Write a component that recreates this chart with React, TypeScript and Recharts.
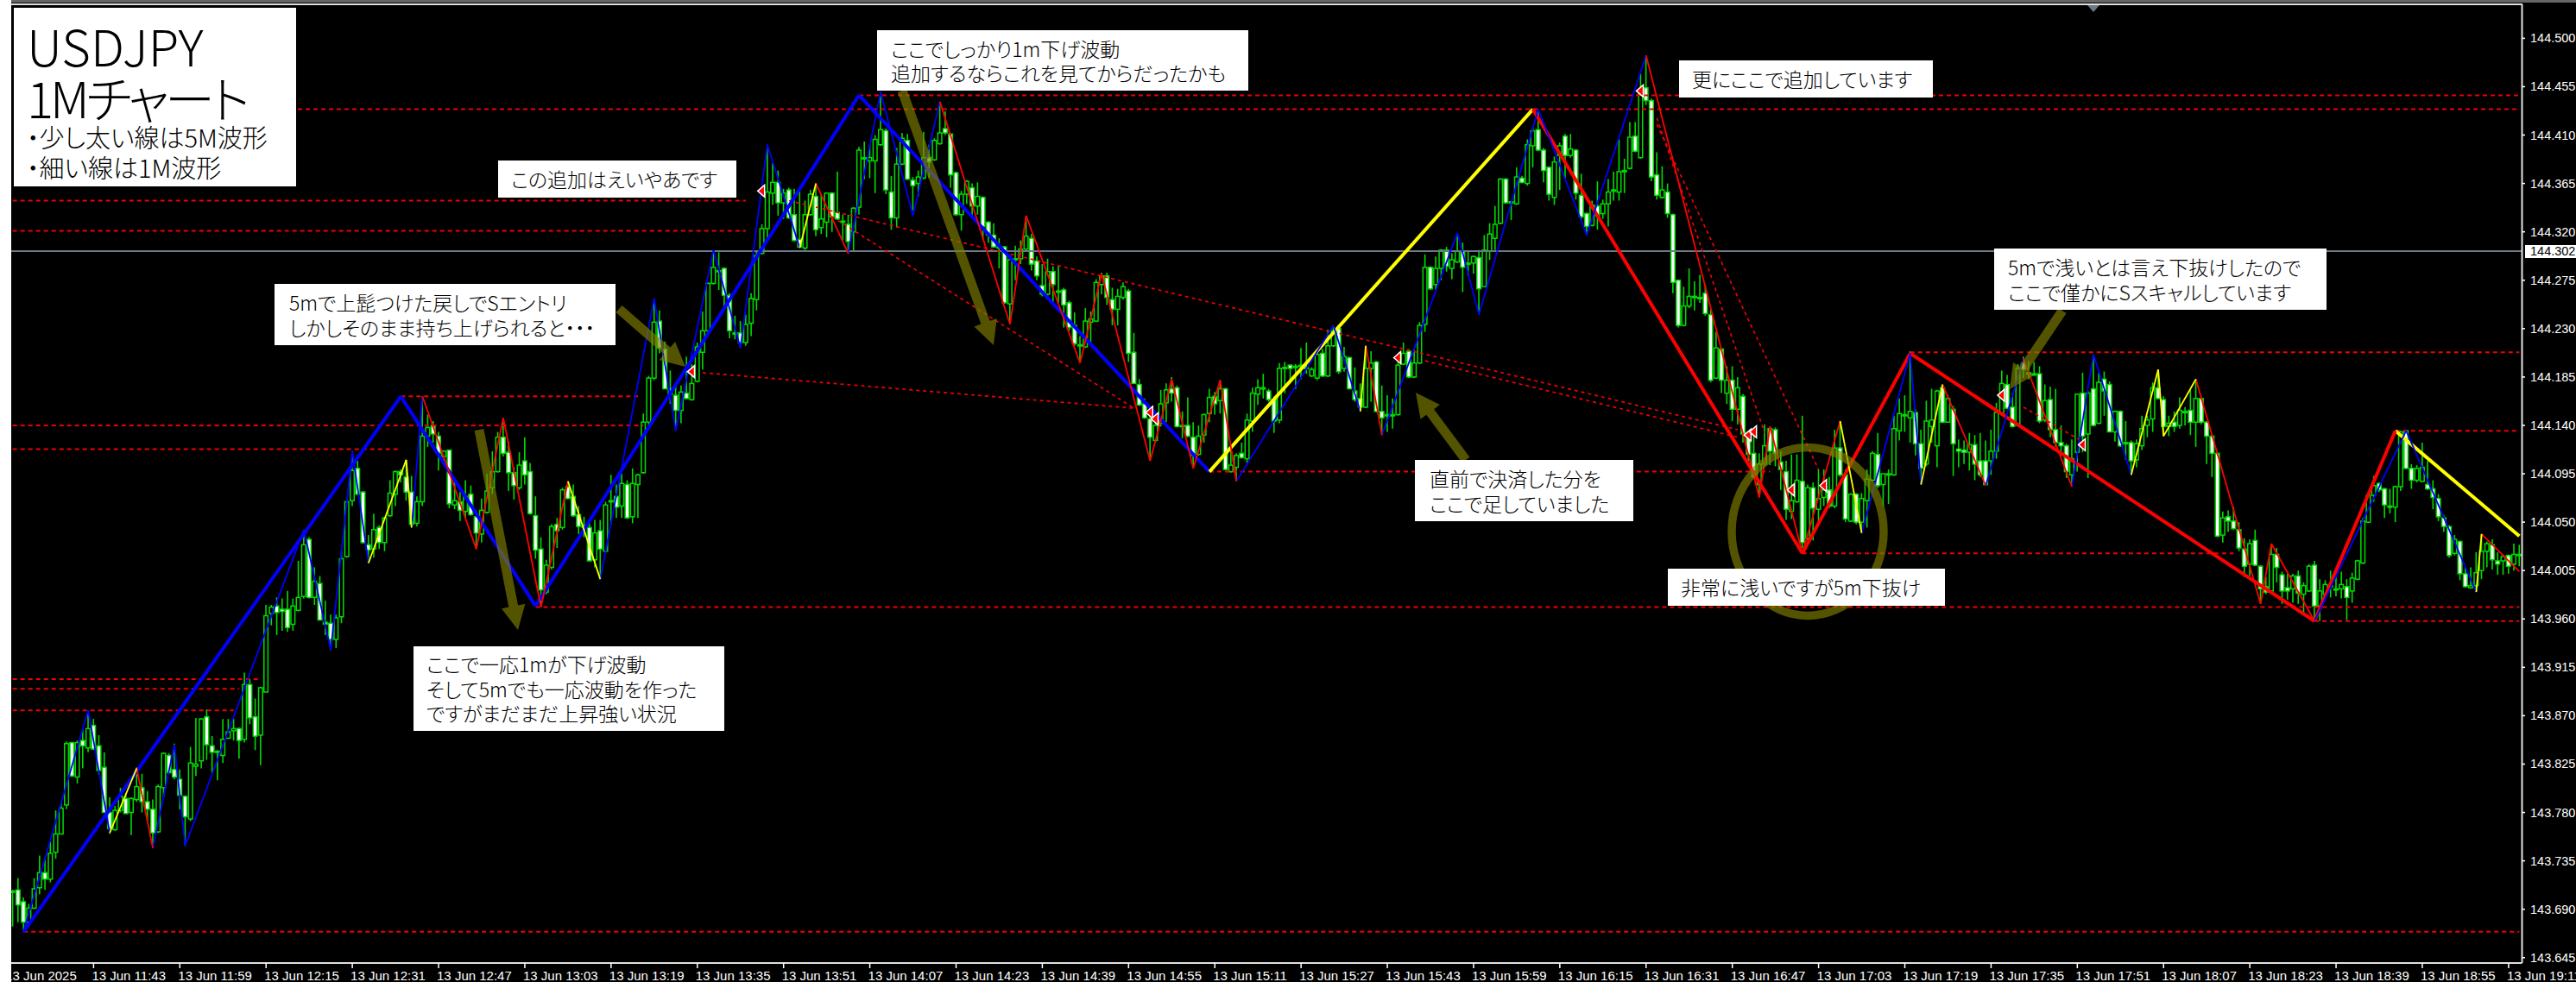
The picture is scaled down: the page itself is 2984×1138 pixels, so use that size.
import { Bar, ComposedChart, Line, ReferenceDot, ReferenceLine, XAxis, YAxis } from "recharts";

// every price below is in 0.001 yen above 143, so 1167 means 144.167
// candle rows are [open, close, high, low], one per minute from 11:28
const candles11h = [
  [706,707,708,674],[708,694,719,678],[697,678,701,669],[678,691,695,677],[691,709,719,690],[710,724,740,704],[724,718,736,708],[718,742,753,715],
  [743,760,782,737],[760,784,789,760],[787,844,846,783],[845,814,845,813],[813,845,847,807],[847,842,857,821],[840,858,875,836],[861,839,867,838],
  [842,819,852,815],[822,780,836,780],[780,765,794,760],[764,782,786,763],[782,795,803,780],[793,779,798,779],[780,793,794,759],[792,804,822,790],
  [803,790,816,780],[790,783,800,772],[783,761,792,747],[762,804,806,761],[803,835,836,794],[833,817,835,816],[820,813,844,811],[811,796,820,783],
];
const candles12h = [
  [795,776,796,749],[774,826,841,772],[823,825,868,814],[828,867,868,821],[869,843,876,829],[842,836,851,817],[837,837,838,810],[833,848,867,826],
  [849,855,867,849],[856,858,867,847],[858,847,859,830],[848,899,910,845],[899,868,904,862],[869,851,886,838],[852,896,897,824],[892,963,973,892],
  [965,971,973,954],[972,966,980,945],[969,967,979,949],[969,952,986,948],[955,972,979,949],[968,980,1014,967],[981,1029,1043,979],[1034,980,1036,979],
  [980,995,1008,973],[993,959,1000,959],[957,955,977,945],[956,941,964,931],[941,961,964,933],[962,1016,1023,956],[1018,1069,1070,1017],[1070,1098,1116,1065],
  [1100,1076,1107,1075],[1078,1031,1079,1030],[1029,1024,1038,1012],[1025,1043,1058,1017],[1045,1031,1047,1025],[1031,1054,1055,1023],[1056,1077,1089,1055],[1076,1097,1098,1065],
  [1097,1094,1099,1087],[1092,1078,1108,1070],[1078,1048,1093,1045],[1049,1069,1074,1046],[1069,1130,1167,1065],[1130,1138,1150,1120],[1140,1132,1144,1124],[1130,1114,1134,1098],
  [1111,1116,1117,1104],[1117,1067,1117,1063],[1066,1070,1090,1062],[1069,1061,1078,1051],[1060,1074,1089,1053],[1076,1057,1084,1056],[1055,1040,1061,1025],[1039,1061,1072,1031],
  [1059,1079,1095,1058],[1082,1097,1116,1076],[1097,1129,1134,1096],[1129,1114,1147,1111],
];
const candles13h = [
  [1115,1096,1125,1079],[1096,1084,1101,1071],[1082,1103,1115,1080],[1107,1094,1129,1085],[1097,1058,1105,1057],[1056,1024,1074,1016],[1025,987,1036,971],[985,1010,1015,983],
  [1008,1046,1048,1006],[1048,1042,1054,1026],[1045,1080,1082,1043],[1083,1072,1088,1071],[1074,1056,1085,1055],[1057,1046,1065,1039],[1047,1045,1055,1036],[1045,1014,1052,1014],
  [1015,1040,1052,1008],[1042,1025,1052,997],[1023,1066,1069,1022],[1070,1069,1094,1048],[1074,1064,1085,1054],[1065,1086,1095,1054],[1085,1054,1089,1053],[1055,1086,1100,1049],
  [1085,1094,1095,1054],[1096,1143,1151,1095],[1143,1184,1186,1137],[1184,1236,1258,1182],[1237,1212,1247,1207],[1211,1174,1218,1174],[1174,1169,1191,1160],[1168,1154,1177,1135],
  [1154,1171,1177,1142],[1170,1165,1204,1164],[1164,1179,1197,1163],[1181,1213,1217,1180],[1208,1228,1246,1192],[1228,1272,1273,1227],[1272,1287,1303,1271],[1283,1284,1301,1266],
  [1286,1261,1287,1250],[1261,1228,1263,1221],[1226,1225,1242,1220],[1226,1217,1237,1212],[1217,1234,1243,1214],[1235,1258,1263,1223],[1257,1298,1302,1247],[1300,1323,1327,1299],
  [1323,1357,1401,1314],[1356,1366,1384,1345],[1366,1347,1377,1335],[1347,1356,1360,1332],[1359,1333,1361,1332],[1336,1312,1360,1311],[1313,1306,1360,1305],[1305,1336,1349,1303],
  [1336,1355,1359,1335],[1353,1322,1365,1316],[1324,1332,1355,1318],[1329,1356,1356,1315],
];
const candles14h = [
  [1356,1334,1357,1320],[1338,1332,1376,1331],[1330,1329,1336,1312],[1327,1311,1336,1300],[1320,1342,1343,1302],[1343,1396,1399,1336],[1389,1388,1404,1369],[1386,1389,1401,1370],
  [1386,1406,1410,1356],[1401,1415,1450,1400],[1414,1359,1416,1355],[1357,1333,1372,1322],[1333,1383,1398,1324],[1383,1407,1412,1382],[1405,1369,1411,1368],[1368,1363,1371,1340],
  [1365,1371,1377,1353],[1370,1389,1413,1369],[1389,1385,1401,1370],[1387,1405,1407,1386],[1402,1412,1441,1401],[1416,1412,1432,1410],[1411,1373,1411,1361],[1375,1336,1376,1335],
  [1336,1355,1358,1321],[1355,1367,1368,1346],[1361,1344,1365,1335],[1344,1353,1366,1336],[1352,1325,1353,1313],[1329,1317,1330,1310],[1317,1306,1328,1305],[1306,1305,1314,1286],
  [1306,1254,1307,1253],[1253,1294,1297,1234],[1294,1295,1307,1275],[1295,1304,1312,1290],[1304,1316,1335,1303],[1314,1290,1318,1284],[1293,1279,1297,1275],[1270,1262,1290,1260],
  [1262,1283,1295,1258],[1283,1271,1288,1254],[1264,1265,1288,1254],[1266,1252,1268,1231],[1254,1231,1256,1228],[1233,1216,1245,1214],[1214,1215,1223,1199],[1213,1237,1249,1212],
  [1236,1239,1246,1217],[1237,1273,1276,1236],[1271,1279,1282,1262],[1279,1259,1282,1252],[1257,1248,1268,1233],[1248,1260,1267,1233],[1259,1269,1273,1257],[1265,1207,1267,1199],
  [1208,1179,1226,1179],[1178,1159,1183,1158],[1160,1147,1165,1146],[1146,1129,1156,1107],
];
const candles15h = [
  [1126,1140,1147,1124],[1142,1160,1173,1139],[1161,1173,1179,1143],[1174,1170,1185,1162],[1175,1139,1177,1138],[1140,1139,1153,1128],[1140,1130,1166,1129],[1129,1112,1143,1100],
  [1113,1130,1140,1112],[1131,1150,1151,1124],[1151,1166,1174,1143],[1167,1160,1171,1150],[1163,1174,1182,1151],[1174,1099,1175,1098],[1097,1103,1122,1096],[1101,1112,1114,1088],
  [1114,1110,1124,1109],[1109,1145,1151,1105],[1144,1170,1175,1134],[1169,1175,1183,1159],[1175,1175,1188,1165],[1172,1164,1174,1162],[1164,1144,1167,1133],[1145,1193,1198,1142],
  [1193,1194,1199,1170],[1196,1193,1197,1180],[1195,1195,1197,1174],[1196,1196,1212,1183],[1193,1194,1217,1188],[1186,1192,1194,1185],[1184,1206,1211,1182],[1207,1186,1211,1185],
  [1186,1214,1229,1185],[1214,1228,1233,1213],[1230,1190,1230,1188],[1193,1204,1213,1190],[1203,1174,1204,1174],[1172,1164,1194,1162],[1165,1157,1179,1153],[1157,1193,1214,1156],
  [1193,1198,1209,1162],[1199,1153,1200,1152],[1153,1147,1177,1131],[1149,1150,1168,1134],[1149,1150,1165,1137],[1150,1196,1203,1149],[1197,1207,1217,1196],[1209,1185,1211,1184],
  [1185,1198,1211,1184],[1198,1233,1236,1197],[1234,1287,1299,1227],[1287,1267,1288,1266],[1271,1286,1297,1266],[1286,1303,1304,1275],[1303,1288,1306,1283],[1286,1294,1300,1276],
  [1292,1302,1319,1291],[1302,1287,1310,1264],[1290,1291,1302,1279],[1291,1297,1298,1281],
];
const candles16h = [
  [1296,1267,1303,1243],[1269,1303,1317,1269],[1302,1318,1328,1294],[1314,1327,1344,1303],[1328,1369,1370,1327],[1369,1347,1370,1346],[1348,1348,1349,1331],[1346,1371,1380,1345],
  [1370,1366,1372,1365],[1365,1401,1406,1363],[1400,1414,1417,1380],[1415,1396,1434,1395],[1396,1377,1398,1366],[1380,1355,1381,1349],[1352,1385,1390,1345],[1391,1400,1403,1359],
  [1409,1391,1411,1369],[1391,1397,1411,1389],[1396,1356,1397,1350],[1354,1334,1374,1332],[1337,1325,1338,1317],[1326,1345,1349,1325],[1344,1335,1367,1322],[1337,1346,1350,1332],
  [1346,1357,1369,1325],[1358,1359,1376,1349],[1357,1376,1406,1349],[1376,1377,1388,1356],[1379,1408,1422,1378],[1409,1395,1422,1394],[1389,1452,1467,1388],[1454,1442,1484,1438],
  [1442,1371,1444,1367],[1373,1354,1394,1350],[1352,1359,1381,1351],[1357,1337,1365,1333],[1336,1273,1337,1263],[1275,1233,1275,1231],[1233,1251,1269,1232],[1251,1260,1286,1249],
  [1259,1260,1274,1247],[1259,1258,1280,1254],[1263,1244,1271,1242],[1243,1182,1248,1180],[1184,1212,1227,1183],[1211,1182,1212,1170],[1170,1182,1195,1160],[1182,1155,1195,1144],
  [1155,1175,1185,1141],[1167,1132,1169,1124],[1129,1113,1131,1107],[1114,1092,1133,1091],[1085,1104,1114,1073],[1104,1121,1141,1102],[1137,1116,1139,1103],[1136,1114,1138,1102],
  [1106,1099,1116,1080],[1097,1062,1107,1052],[1060,1070,1113,1053],[1069,1089,1113,1068],
];
const candles17h = [
  [1088,1031,1149,1026],[1035,1082,1085,1033],[1082,1063,1087,1033],[1062,1072,1099,1051],[1073,1080,1099,1065],[1080,1065,1092,1063],[1065,1119,1136,1063],[1119,1094,1143,1092],
  [1094,1053,1099,1050],[1051,1076,1077,1050],[1076,1050,1077,1048],[1050,1072,1077,1040],[1070,1090,1099,1045],[1089,1114,1116,1088],[1113,1084,1133,1082],[1085,1095,1095,1065],
  [1095,1095,1099,1067],[1094,1137,1149,1093],[1135,1151,1165,1126],[1149,1150,1168,1134],[1147,1153,1209,1124],[1152,1123,1155,1112],[1123,1100,1136,1085],[1104,1144,1163,1102],
  [1139,1145,1174,1124],[1121,1172,1173,1101],[1175,1143,1178,1142],[1143,1165,1168,1143],[1155,1123,1158,1093],[1118,1116,1127,1101],[1117,1115,1126,1104],[1115,1122,1133,1098],
  [1122,1104,1131,1089],[1107,1094,1133,1092],[1107,1085,1126,1084],[1107,1116,1136,1094],[1116,1152,1161,1109],[1151,1179,1191,1149],[1178,1156,1187,1155],[1157,1139,1170,1138],
  [1140,1193,1197,1139],[1198,1192,1204,1184],[1189,1189,1200,1183],[1188,1187,1199,1186],[1188,1144,1195,1142],[1145,1163,1178,1143],[1164,1136,1176,1129],[1136,1124,1174,1120],
  [1124,1121,1140,1112],[1121,1097,1123,1091],[1094,1109,1127,1083],[1115,1169,1169,1097],[1170,1130,1189,1115],[1132,1170,1172,1091],[1174,1140,1206,1139],[1142,1180,1189,1141],
  [1183,1172,1190,1149],[1178,1134,1181,1134],[1134,1153,1154,1125],[1153,1121,1154,1120],
];
const candles18h = [
  [1124,1124,1144,1108],[1124,1107,1126,1094],[1108,1123,1127,1101],[1121,1137,1149,1117],[1140,1145,1149,1129],[1146,1175,1180,1134],[1175,1165,1192,1164],[1164,1139,1167,1130],
  [1139,1142,1149,1130],[1143,1139,1153,1134],[1140,1154,1166,1137],[1153,1153,1157,1140],[1154,1143,1173,1131],[1143,1165,1183,1120],[1165,1143,1166,1141],[1143,1130,1144,1104],
  [1130,1114,1132,1092],[1114,1037,1115,1036],[1038,1054,1060,1031],[1055,1051,1061,1041],[1051,1044,1064,1043],[1043,1026,1050,1023],[1025,1009,1035,999],[1011,1030,1034,1000],
  [1033,1010,1043,1009],[1009,988,1010,974],[990,985,999,983],[986,1020,1030,984],[1020,1008,1026,994],[1001,986,1004,974],[989,986,1002,978],[988,1000,1002,975],
  [1000,984,1005,974],[983,991,994,965],[986,1009,1011,985],[1010,972,1014,958],[972,986,997,958],[983,992,996,982],[990,991,1005,980],[988,988,1000,981],
  [988,992,1004,979],[990,980,997,959],[986,998,1003,975],[997,1014,1015,996],[1012,1051,1054,1011],[1050,1075,1076,1049],[1075,1084,1093,1069],[1086,1080,1087,1078],
  [1081,1066,1082,1054],[1065,1065,1081,1058],[1064,1083,1084,1050],[1083,1134,1135,1079],[1135,1100,1136,1099],[1100,1089,1104,1081],[1089,1100,1103,1087],[1088,1101,1124,1087],
  [1085,1081,1107,1080],[1081,1073,1089,1062],[1072,1055,1076,1051],[1054,1046,1057,1041],
];
const candles19h = [
  [1046,1019,1047,1017],[1021,1034,1038,1019],[1032,1002,1033,996],[1002,990,1008,989],[989,991,1008,988],[991,1003,1022,986],[1005,1023,1039,997],[1023,1030,1032,1008],
  [1029,1015,1034,1006],[1014,1011,1022,1001],[1014,1018,1020,1001],[1019,1009,1020,1002],[1011,1020,1030,1005],[1020,1020,1029,1009],
];

// zigzag legs are [fromBar, fromPrice, toBar, toPrice]
const waveBlue5m = [[2,669,72,1167],[72,1167,97,972],[97,972,157,1447],[157,1447,222,1097]];
const waveYellow5m = [[222,1097,282,1434],[442,1135,465,1037]];
const waveRed5m = [[282,1434,332,1021],[332,1021,352,1207],[352,1207,427,958],[427,958,442,1135]];
const waveBlue1m = [
  [2,669,14,875],[14,875,18,761],[26,747,30,843],[30,843,32,749],[32,749,54,1043],[54,1043,59,931],[59,931,63,1116],[63,1116,66,1012],
  [74,1045,76,1167],[109,997,119,1258],[119,1258,123,1135],[123,1135,130,1303],[130,1303,135,1212],[135,1212,140,1401],[140,1401,146,1305],
  [155,1300,161,1450],[161,1450,167,1335],[167,1335,172,1441],[227,1088,245,1233],[245,1233,250,1153],[254,1131,268,1319],[268,1319,272,1243],
  [272,1243,283,1434],[283,1434,292,1317],[292,1317,303,1484],[343,1040,352,1207],[352,1207,354,1085],[366,1084,373,1202],[382,1083,386,1206],
  [386,1206,393,1094],[427,958,444,1135],[444,1135,457,985],
];
const waveRed1m = [
  [23,821,26,747],[76,1167,86,1025],[86,1025,91,1147],[91,1147,98,971],[98,971,103,1088],[149,1365,155,1300],[172,1441,185,1234],[185,1234,188,1335],
  [188,1335,198,1198],[198,1198,202,1281],[202,1281,211,1107],[211,1107,215,1183],[215,1183,219,1100],[219,1100,224,1182],[224,1182,227,1088],
  [251,1214,254,1131],[303,1484,324,1073],[324,1073,326,1139],[326,1139,332,1021],[332,1021,339,1144],[358,1178,366,1084],[373,1202,382,1083],
  [405,1183,417,974],[417,974,419,1030],[419,1030,427,958],[458,1039,465,1004],
];
const waveYellow1m = [
  [18,761,23,821],[66,1012,73,1108],[73,1108,74,1045],[103,1088,109,997],[146,1305,149,1365],[250,1153,251,1214],[339,1144,343,1040],
  [354,1085,358,1178],[393,1094,398,1192],[398,1192,399,1130],[399,1130,405,1183],[457,985,458,1039],
];

// dotted levels are [fromBar, toBar, price]
const levels = [
  [1,465,1434],[157,465,1447],[0,136,1349],[0,136,1321],[72,116,1167],[0,117,1140],[0,72,1118],[0,46,904],[0,42,895],[0,41,875],
  [97,465,971],[2,465,669],[222,326,1097],[332,412,1021],[352,465,1208],[442,465,1135],[427,465,958],
];
// trend lines are [fromBar, fromPrice, toBar, toPrice]
const trendLines = [
  [128,1189,208,1156],[152,1334,208,1156],[144,1349,320,1136],[262,1200,320,1129],
  [305,1426,325,1133],[305,1420,335,1099],[373,1157,384,1125],
];
// entries are [bar, price]
const entries = [
  [126,1190],[139,1358],[211,1152],[212,1146],[257,1203],[302,1451],[322,1131],[323,1134],[330,1080],[336,1084],[369,1168],[384,1122],
];

const priceTicks = [
  143.645,143.69,143.735,143.78,143.825,143.87,143.915,143.96,144.005,144.05,
  144.095,144.14,144.185,144.23,144.275,144.32,144.365,144.41,144.455,144.5,
];
const timeTicks = [
  "11:28","11:43","11:59","12:15","12:31","12:47","13:03","13:19","13:35","13:51","14:07","14:23","14:39","14:55","15:11",
  "15:27","15:43","15:59","16:15","16:31","16:47","17:03","17:19","17:35","17:51","18:07","18:23","18:39","18:55","19:11",
];
const lastPrice = 144.302;

const notes = [
  { left: 577, top: 186, width: 276, height: 43, pad: 15, lines: ["この追加はえいやあです"] },
  { left: 318, top: 329, width: 395, height: 71, pad: 17, lines: ["5mで上髭つけた戻しでSエントリ", "しかしそのまま持ち上げられると・・・"] },
  { left: 479, top: 749, width: 360, height: 98, pad: 15, lines: ["ここで一応1mが下げ波動", "そして5mでも一応波動を作った", "ですがまだまだ上昇強い状況"] },
  { left: 1016, top: 35, width: 430, height: 70, pad: 16, lines: ["ここでしっかり1m下げ波動", "追加するならこれを見てからだったかも"] },
  { left: 1945, top: 70, width: 294, height: 43, pad: 15, lines: ["更にここで追加しています"] },
  { left: 1639, top: 533, width: 253, height: 71, pad: 17, lines: ["直前で決済した分を", "ここで足していました"] },
  { left: 1932, top: 659, width: 321, height: 43, pad: 15, lines: ["非常に浅いですが5m下抜け"] },
  { left: 2310, top: 288, width: 385, height: 71, pad: 16, lines: ["5mで浅いとは言え下抜けしたので", "ここで僅かにSスキャルしています"] },
];
const arrows = [
  [717, 358, 794, 425],
  [555, 498, 600, 730],
  [1045, 105, 1151, 400],
  [1698, 533, 1640, 455],
  [2389, 360, 2328, 451],
];

const candleRows = [
  ...candles11h, ...candles12h, ...candles13h, ...candles14h, ...candles15h,
  ...candles16h, ...candles17h, ...candles18h, ...candles19h,
];
const toPrice = (v: number) => 143 + v / 1000;
const timeOf = (i: number) => {
  const m = 11 * 60 + 28 + i;
  return `${Math.floor(m / 60)}:${String(m % 60).padStart(2, "0")}`;
};

const BLUE = "#0000ff";
const RED = "#ff0000";
const YELLOW = "#ffff00";
const GREEN = "#00dc00";
const OLIVE = "rgba(128,128,0,0.65)";
const waveGroups = [
  { name: "b5", legs: waveBlue5m, color: BLUE, width: 4 },
  { name: "y5", legs: waveYellow5m, color: YELLOW, width: 4 },
  { name: "r5", legs: waveRed5m, color: RED, width: 4 },
  { name: "b1", legs: waveBlue1m, color: BLUE, width: 1.8 },
  { name: "r1", legs: waveRed1m, color: RED, width: 1.8 },
  { name: "y1", legs: waveYellow1m, color: YELLOW, width: 1.8 },
];
const waveSeries = waveGroups.flatMap((g) =>
  g.legs.map((leg, i) => ({ key: `${g.name}_${i}`, leg, color: g.color, width: g.width }))
);

const chartData = candleRows.map(([o, c, h, l], i) => {
  const row: any = {
    time: timeOf(i),
    open: toPrice(o),
    close: toPrice(c),
    high: toPrice(h),
    low: toPrice(l),
    range: [toPrice(l), toPrice(h)],
  };
  for (const s of waveSeries) {
    if (s.leg[0] === i) row[s.key] = toPrice(s.leg[1]);
    if (s.leg[2] === i) row[s.key] = toPrice(s.leg[3]);
  }
  return row;
});

const drawCandle = (props: any) => {
  const { x, y, width, height, payload } = props;
  const perUnit = height / (payload.high - payload.low);
  const cx = x + width / 2;
  const yOpen = y + (payload.high - payload.open) * perUnit;
  const yClose = y + (payload.high - payload.close) * perUnit;
  const top = Math.min(yOpen, yClose);
  const bodyH = Math.max(Math.abs(yOpen - yClose), 1.5);
  return (
    <g>
      <line x1={cx} x2={cx} y1={y} y2={y + height} stroke={GREEN} strokeWidth={1.6} />
      <rect x={cx - 2.3} y={top} width={4.6} height={bodyH} fill={payload.close < payload.open ? "#fff" : "#000"} stroke={GREEN} strokeWidth={1.5} />
    </g>
  );
};

const drawEntry = (props: any) => {
  const { cx, cy } = props;
  return (
    <path
      d={`M${cx - 5} ${cy} L${cx + 3} ${cy - 7} L${cx + 3} ${cy + 7} Z`}
      fill={RED}
      stroke="#fff"
      strokeWidth={1.5}
    />
  );
};

const TimeTick = ({ x, payload }: any) => {
  const first = payload.value === timeTicks[0];
  return (
    <g>
      {!first && <line x1={x} x2={x} y1={1116} y2={1122} stroke="#fff" strokeWidth={1.5} />}
      <text x={first ? x - 8.5 : x - 2} y={1136} fill="#fff" fontFamily="Liberation Sans" fontSize={15}>
        {first ? "13 Jun 2025" : `13 Jun ${payload.value}`}
      </text>
    </g>
  );
};

const PriceTick = ({ y, payload }: any) => (
  <g>
    <line x1={2921.5} x2={2925} y1={y} y2={y} stroke="#fff" strokeWidth={1.5} />
    <text x={2931} y={y + 5} fill="#fff" fontFamily="Liberation Sans" fontSize={14.5}>
      {payload.value.toFixed(3)}
    </text>
  </g>
);

const arrowPath = ([x1, y1, x2, y2]: number[]) => {
  const len = Math.hypot(x2 - x1, y2 - y1);
  const ux = (x2 - x1) / len;
  const uy = (y2 - y1) / len;
  const nx = -uy;
  const ny = ux;
  const bx = x2 - ux * 28;
  const by = y2 - uy * 28;
  const p = (x: number, y: number) => `${x.toFixed(1)} ${y.toFixed(1)}`;
  return `M${p(x1 + nx * 5.5, y1 + ny * 5.5)} L${p(bx + nx * 5.5, by + ny * 5.5)} L${p(bx + nx * 14, by + ny * 14)} L${p(x2, y2)} L${p(bx - nx * 14, by - ny * 14)} L${p(bx - nx * 5.5, by - ny * 5.5)} L${p(x1 - nx * 5.5, y1 - ny * 5.5)} Z`;
};

const jp = { fontFamily: "'Noto Sans CJK JP'", color: "#000", fontFeatureSettings: '"palt"' };

export default function App() {
  return (
    <div style={{ position: "relative", width: 2984, height: 1138, background: "#000", overflow: "hidden" }}>
      <style>{`body{margin:0}`}</style>
      <ComposedChart
        width={2984}
        height={1138}
        data={chartData}
        margin={{ top: 5, right: 0, bottom: 0, left: 11.6 }}
        barCategoryGap={0}
      >
        <XAxis
          dataKey="time"
          ticks={timeTicks}
          interval={0}
          height={22}
          tick={TimeTick}
          tickLine={false}
          stroke="#e0e0e0"
          strokeWidth={2}
        />
        <YAxis
          orientation="right"
          type="number"
          domain={[143.64, 144.5316]}
          ticks={priceTicks}
          interval={0}
          width={62.5}
          allowDataOverflow
          tick={PriceTick}
          tickLine={false}
          stroke="#e0e0e0"
          strokeWidth={2}
        />
        <ReferenceLine y={lastPrice} stroke="#6b7886" strokeWidth={2} />
        {levels.map(([from, to, v], i) => (
          <ReferenceLine
            key={`level-${i}`}
            segment={[{ x: timeOf(from), y: toPrice(v) }, { x: timeOf(to), y: toPrice(v) }]}
            stroke="#f00000"
            strokeWidth={2}
            strokeDasharray="5 4"
          />
        ))}
        {trendLines.map(([from, a, to, b], i) => (
          <ReferenceLine
            key={`trend-${i}`}
            segment={[{ x: timeOf(from), y: toPrice(a) }, { x: timeOf(to), y: toPrice(b) }]}
            stroke="#f00000"
            strokeWidth={1.7}
            strokeDasharray="4 4"
          />
        ))}
        {waveSeries.map((s) => (
          <Line
            key={s.key}
            dataKey={s.key}
            stroke={s.color}
            strokeWidth={s.width}
            dot={false}
            activeDot={false}
            connectNulls
            isAnimationActive={false}
            legendType="none"
          />
        ))}
        <Bar dataKey="range" barSize={6} shape={drawCandle} isAnimationActive={false} />
        {entries.map(([bar, v], i) => (
          <ReferenceDot key={`entry-${i}`} x={timeOf(bar)} y={toPrice(v)} shape={drawEntry} />
        ))}
      </ComposedChart>

      <svg width={2984} height={1138} style={{ position: "absolute", left: 0, top: 0 }}>
        {arrows.map((a, i) => (
          <path key={i} d={arrowPath(a)} fill={OLIVE} />
        ))}
        <ellipse cx={2094} cy={616} rx={88} ry={97.5} fill="none" stroke={OLIVE} strokeWidth={9.5} />
        <path d="M2418 6 L2432 6 L2425 14 Z" fill="#6b7886" />
      </svg>

      <div style={{ position: "absolute", left: 0, top: 0, width: 2984, height: 3, background: "#666" }} />
      <div style={{ position: "absolute", left: 13, top: 4, width: 2909, height: 2, background: "#e0e0e0" }} />
      <div style={{ position: "absolute", left: 0, top: 0, width: 12.5, height: 1138, background: "#fff" }} />

      {/* last price flag on the axis */}
      <div style={{ position: "absolute", left: 2925, top: 284, width: 59, height: 15, background: "#fff", color: "#000", fontFamily: "Liberation Sans", fontSize: 14.5, lineHeight: "15px", paddingLeft: 6, boxSizing: "border-box" }}>
        {lastPrice.toFixed(3)}
      </div>

      {/* title card */}
      <div style={{ position: "absolute", left: 16, top: 9, width: 327, height: 207, background: "#fff" }}>
        <div style={{ ...jp, position: "absolute", left: 15, top: 14, fontSize: 58, lineHeight: "58px", fontWeight: 300 }}>USDJPY</div>
        <div style={{ ...jp, position: "absolute", left: 15, top: 74, fontSize: 58, lineHeight: "58px", fontWeight: 300, letterSpacing: -4 }}>1Mチャート</div>
        <div style={{ ...jp, position: "absolute", left: 15, top: 135, fontSize: 29, lineHeight: "29px", fontWeight: 300 }}>・少し太い線は5M波形</div>
        <div style={{ ...jp, position: "absolute", left: 15, top: 170, fontSize: 29, lineHeight: "29px", fontWeight: 300 }}>・細い線は1M波形</div>
      </div>

      {notes.map((n, i) => (
        <div
          key={i}
          style={{
            ...jp,
            position: "absolute",
            left: n.left,
            top: n.top,
            width: n.width,
            height: n.height,
            paddingLeft: n.pad,
            boxSizing: "border-box",
            background: "#fff",
            display: "flex",
            flexDirection: "column",
            justifyContent: "center",
            fontSize: 23,
            lineHeight: "28.5px",
            fontWeight: 300,
            whiteSpace: "nowrap",
          }}
        >
          {n.lines.map((t) => (
            <div key={t}>{t}</div>
          ))}
        </div>
      ))}
    </div>
  );
}
